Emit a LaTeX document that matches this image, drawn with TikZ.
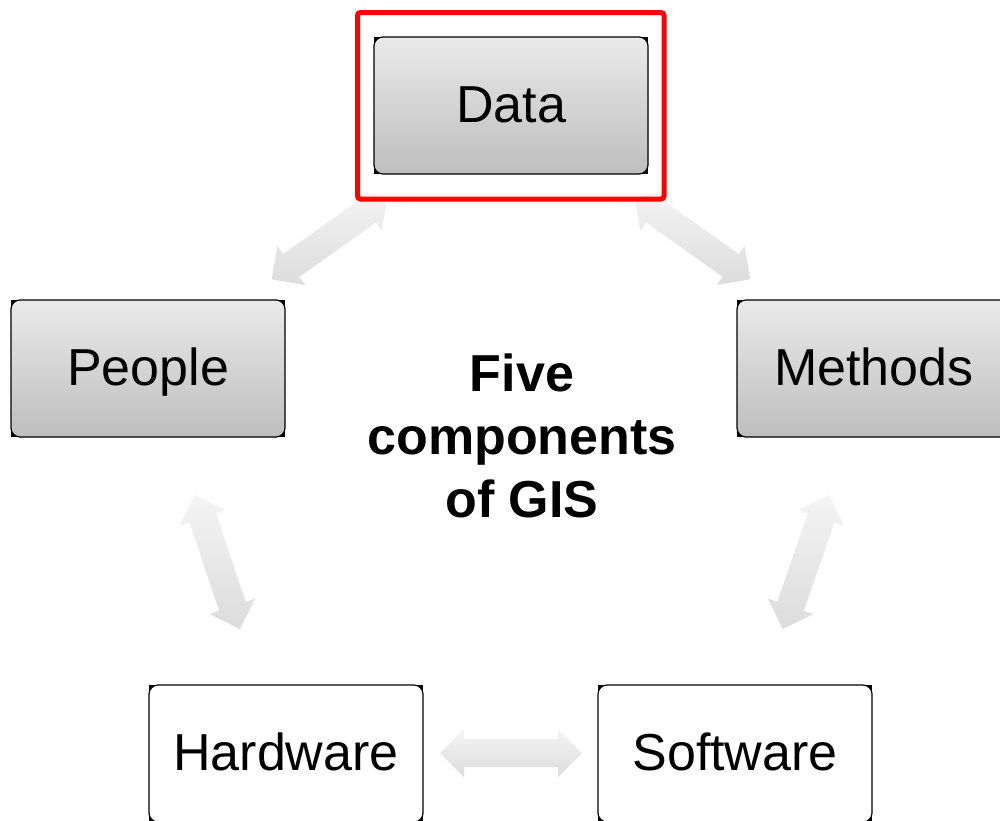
\documentclass[tikz,border=0pt]{standalone}
\usepackage{fontspec}
\setmainfont{Liberation Sans}
\usetikzlibrary{calc,backgrounds}
\definecolor{boxtop}{RGB}{234,234,234}
\definecolor{boxbot}{RGB}{190,190,190}
\definecolor{arrA}{RGB}{244,244,244}
\definecolor{arrB}{RGB}{220,220,220}
\definecolor{framered}{RGB}{255,0,0}
\tikzset{
  gbox/.style={rounded corners=9pt, draw=black, line width=1.2pt, inner sep=0pt, outer sep=0pt,
    minimum width=274pt, minimum height=137pt, top color=boxtop, bottom color=boxbot,
    text height=39pt, text depth=5pt,
    font=\fontsize{52}{60}\selectfont},
  wbox/.style={gbox, top color=white, bottom color=white},
  arrowfill/.style={top color=arrA, bottom color=arrB, draw=none},
  redframe/.style={draw=framered, line width=5pt, rounded corners=3pt},
  title/.style={align=center, inner sep=0pt, font=\fontsize{52}{63}\selectfont\bfseries}
}
\newcommand\fatarrow[2]{%
 \coordinate (fa1) at ($(#1)!24pt!(#2)$);
 \coordinate (fb1) at ($(#2)!24pt!(#1)$);
 \shade[arrowfill] (#1) -- ($(fa1)!24pt!90:(#2)$) -- ($(fa1)!14pt!90:(#2)$)
   -- ($(fb1)!14pt!-90:(#1)$) -- ($(fb1)!24pt!-90:(#1)$) -- (#2)
   -- ($(fb1)!24pt!90:(#1)$) -- ($(fb1)!14pt!90:(#1)$)
   -- ($(fa1)!14pt!-90:(#2)$) -- ($(fa1)!24pt!-90:(#2)$) -- cycle;
}
\begin{document}
\begin{tikzpicture}[x=1pt,y=-1pt]
\useasboundingbox (0,0) rectangle (1000,820);
\clip (0,0) rectangle (1000,820);
% arrow end points
\coordinate (dpA) at (271.7,279.3);
\coordinate (dpB) at (387.4,197.1);
\coordinate (dmA) at (750.3,279.3);
\coordinate (dmB) at (634.6,197.1);
\coordinate (phA) at (195,495);
\coordinate (phB) at (240,629);
\coordinate (msA) at (829,495);
\coordinate (msB) at (782.7,629);
\coordinate (hsA) at (440,753);
\coordinate (hsB) at (582,753);
\fatarrow{dpA}{dpB}
\fatarrow{dmA}{dmB}
\fatarrow{phA}{phB}
\fatarrow{msA}{msB}
\fatarrow{hsA}{hsB}
% nodes
\node[gbox] (data) at (511,105.5) {Data};
\node[gbox] (people) at (148,368.5) {People};
\node[gbox] (methods) at (874,368.5) {Methods};
\node[wbox] (hardware) at (286,753.5) {Hardware};
\node[wbox] (software) at (735,753.5) {Software};
\begin{scope}[on background layer]
  \fill[white] (0,0) rectangle (1000,820);
  \foreach \n in {data,people,methods,hardware,software}
    \fill[black] (\n.south west) rectangle (\n.north east);
\end{scope}
\draw[redframe] (357.5,12.5) rectangle (664,199);
\node[title] (center) at (522,436) {Five\\components\\of GIS};
\end{tikzpicture}
\end{document}
